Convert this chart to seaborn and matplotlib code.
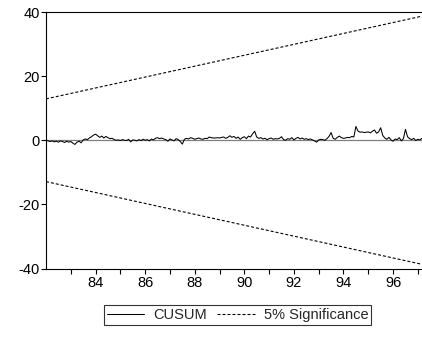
import numpy as np
import pandas as pd
import matplotlib
matplotlib.use("Agg")
import matplotlib.pyplot as plt
import seaborn as sns

# Recursive CUSUM statistic, monthly from 1982M01
start_year = 1982.0
cusum = [
    0.0, -0.2, -0.4, -0.2, -0.5, -0.3, -0.6, -0.2, -0.4, -0.7, -0.3, -0.6, -0.4, -0.9, -1.3, -0.6,
    -0.3, -0.8, 0.1, 0.4, 0.2, 0.7,
    1.1, 1.6, 1.9, 1.4, 0.9, 1.3, 0.7, 1.2, 0.8, 0.5, 0.6,
    0.2, 0.0, 0.1, -0.1, 0.2, 0.0, -0.1, 0.3, -0.5, 0.1, 0.0, -0.2, 0.2, -0.1, 0.3, 0.0, 0.2, -0.2, 0.4, 0.1,
    0.6, 0.8, 0.5, 0.7, 0.4, 0.2,
    -0.3, 0.4, 0.1, -0.2, 0.5, 0.2, -0.4, -1.2,
    0.3, 0.6, 0.4, 0.8, 0.6, 0.3, 0.5, 0.7, 0.4, 0.3, 0.6, 0.5, 1.0,
    0.8, 0.7, 0.7, 0.8, 0.7, 0.9, 1.0, 0.6, 0.9, 1.4,
    0.9, 1.2, 0.6, 1.0, 0.3, 0.8, 1.1, 0.5, 1.3, 1.0,
    2.0, 2.8, 1.0,
    0.6, 0.8, 0.4, 0.6, 0.2, 0.5, 0.7, 0.3, 0.5, 0.4, 0.6, 1.1,
    0.2, 0.0, 0.5, 0.3, 0.8, 0.1, 0.6, 0.9, 0.4, 0.7, 0.3, 0.5, 0.2, 0.4, 0.1, -0.2, -0.6,
    0.1, 0.3, 0.2, 0.0, 0.5, 1.2, 2.4,
    0.6, 0.3, 0.9, 1.3, 0.8, 0.6, 0.7, 0.9, 0.8, 1.2, 1.0,
    4.3,
    2.9, 2.5, 2.6, 2.4, 2.5, 2.6, 2.3, 2.8, 3.2, 2.2, 2.6, 3.9,
    1.5, 0.7, 0.3, 0.9, 0.1, -0.3, 0.4, 0.2, 0.8, -0.2,
    0.5, 3.4, 1.1,
    0.5, 0.2, 0.6, -0.1, 0.3, 0.1, 0.6,
]
# 5% significance bounds (straight lines between first and last observation)
upper_bound = [12.9, 38.7]
lower_bound = [-12.9, -38.7]

year_ticks = list(range(1983, 1998))
year_labels = ["" if y % 2 else f"{y % 100:02d}" for y in year_ticks]
y_ticks = [-40, -20, 0, 20, 40]

dates = start_year + np.arange(len(cusum)) / 12.0
df = pd.DataFrame({"date": dates, "value": cusum})
bounds_x = [dates[0], dates[-1]]

sns.set_style("ticks")
plt.rcParams["font.family"] = ["Liberation Sans", "DejaVu Sans"]

fig = plt.figure(figsize=(4.22, 3.38), dpi=100)
ax = fig.add_axes([46 / 422, 1 - 268.5 / 338, 1 - 46 / 422, (268.5 - 12) / 338])

ax.axhline(0, color="#808080", lw=0.9, zorder=1)
sns.lineplot(data=df, x="date", y="value", ax=ax, color="black", lw=0.75,
             label="CUSUM", zorder=3)
sns.lineplot(x=bounds_x, y=upper_bound, ax=ax, color="black", lw=0.8,
             dashes=False, label="5% Significance", zorder=2)
sns.lineplot(x=bounds_x, y=lower_bound, ax=ax, color="black", lw=0.8,
             dashes=False, zorder=2)
for ln in ax.lines[2:]:
    ln.set_linestyle((0, (2.7, 1.8)))

ax.set_xlim(dates[0], dates[-1])
ax.set_ylim(-40, 40)
ax.set_xticks(year_ticks)
ax.set_xticklabels(year_labels)
ax.set_yticks(y_ticks)
ax.set_yticklabels([str(v) for v in y_ticks])
ax.set_xlabel("")
ax.set_ylabel("")
ax.tick_params(axis="both", direction="out", length=3.5, width=0.8,
               colors="black", labelsize=10.5, pad=2)
ax.tick_params(axis="y", pad=1)
for side in ["left", "bottom", "top"]:
    ax.spines[side].set_color("black")
    ax.spines[side].set_linewidth(0.8)
ax.spines["right"].set_visible(False)

ax.get_legend().remove()
handles = ax.lines[1:3]
leg = fig.legend(handles, ["CUSUM", "5% Significance"], loc="center",
                 bbox_to_anchor=(237.5 / 422, 1 - 315 / 338), ncol=2,
                 fontsize=10.5, frameon=True, fancybox=False, handlelength=2.6,
                 columnspacing=0.7, handletextpad=0.6, borderpad=0.2,
                 borderaxespad=0)
leg.get_frame().set_edgecolor("black")
leg.get_frame().set_linewidth(0.8)

fig.savefig("out.png", dpi=100)
